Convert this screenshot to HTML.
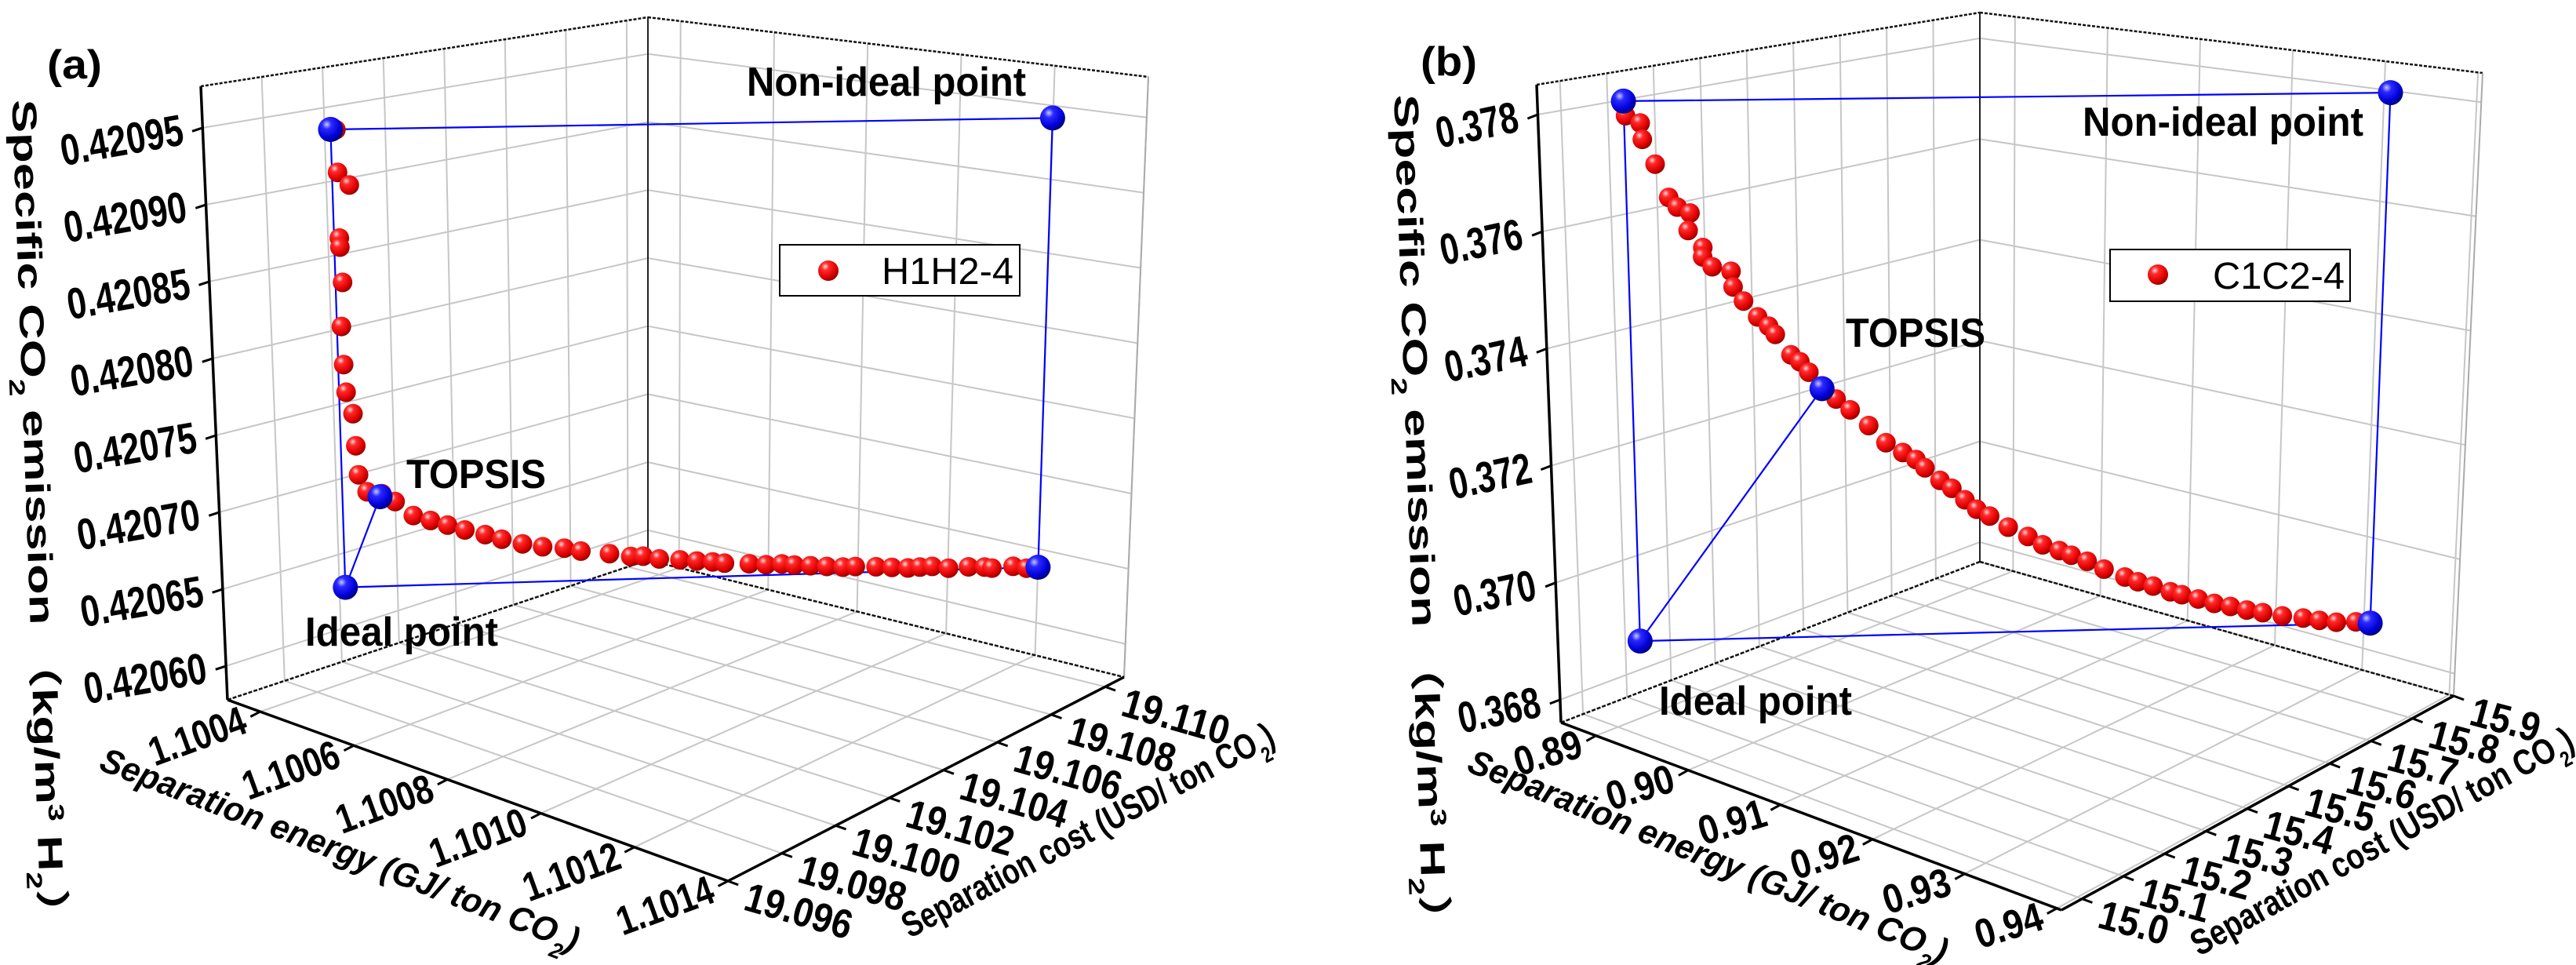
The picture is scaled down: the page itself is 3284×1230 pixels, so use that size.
<!DOCTYPE html>
<html><head><meta charset="utf-8"><style>
html,body{margin:0;padding:0;background:#fff;}
svg{display:block;font-family:"Liberation Sans","Noto Sans CJK SC",sans-serif;}
</style></head><body>
<svg id="chart" xmlns="http://www.w3.org/2000/svg" width="3284" height="1230" viewBox="0 0 3284 1230">
<defs>
<radialGradient id="redG" cx="0.35" cy="0.3" r="0.75"><stop offset="0" stop-color="#ffd8d8"/><stop offset="0.25" stop-color="#ff2a2a"/><stop offset="0.7" stop-color="#e00000"/><stop offset="1" stop-color="#8a0000"/></radialGradient>
<radialGradient id="blueG" cx="0.35" cy="0.3" r="0.75"><stop offset="0" stop-color="#c8c8ff"/><stop offset="0.25" stop-color="#2a2aff"/><stop offset="0.7" stop-color="#0000d8"/><stop offset="1" stop-color="#000070"/></radialGradient>
</defs>
<g id="panelA"></g>
<g id="panelB"></g>

<text x="60" y="100" font-size="52" font-weight="bold" textLength="70" lengthAdjust="spacingAndGlyphs">(a)</text>
<text x="1811" y="96" font-size="52" font-weight="bold" textLength="72" lengthAdjust="spacingAndGlyphs">(b)</text>

<text transform="translate(34,662) rotate(88)" text-anchor="middle" font-size="44" font-weight="bold" textLength="1070" lengthAdjust="spacingAndGlyphs">Specific CO<tspan baseline-shift="sub" font-size="28">2</tspan> emission （kg/m<tspan baseline-shift="super" font-size="28">3</tspan> H<tspan baseline-shift="sub" font-size="28">2</tspan>）</text>
<text transform="translate(1796,663) rotate(88)" text-anchor="middle" font-size="44" font-weight="bold" textLength="1085" lengthAdjust="spacingAndGlyphs">Specific CO<tspan baseline-shift="sub" font-size="28">2</tspan> emission （kg/m<tspan baseline-shift="super" font-size="28">3</tspan> H<tspan baseline-shift="sub" font-size="28">2</tspan>）</text>

<text transform="translate(428,1097) rotate(21)" text-anchor="middle" font-size="44" font-weight="bold" font-style="italic" textLength="650" lengthAdjust="spacingAndGlyphs">Separation energy (GJ/ ton CO<tspan baseline-shift="sub" font-size="28">2</tspan>)</text>
<text transform="translate(1394,1072) rotate(-28)" text-anchor="middle" font-size="46" font-weight="bold" textLength="530" lengthAdjust="spacingAndGlyphs">Separation cost (USD/ ton CO<tspan baseline-shift="sub" font-size="28">2</tspan>)</text>
<text transform="translate(2172,1105) rotate(22)" text-anchor="middle" font-size="44" font-weight="bold" font-style="italic" textLength="655" lengthAdjust="spacingAndGlyphs">Separation energy (GJ/ ton CO<tspan baseline-shift="sub" font-size="28">2</tspan>)</text>
<text transform="translate(3044,1086) rotate(-29)" text-anchor="middle" font-size="46" font-weight="bold" textLength="550" lengthAdjust="spacingAndGlyphs">Separation cost (USD/ ton CO<tspan baseline-shift="sub" font-size="28">2</tspan>)</text>

<text x="952" y="122" font-size="52" font-weight="bold" textLength="356" lengthAdjust="spacingAndGlyphs">Non-ideal point</text>
<text x="518" y="622" font-size="52" font-weight="bold" textLength="178" lengthAdjust="spacingAndGlyphs">TOPSIS</text>
<text x="389" y="823" font-size="52" font-weight="bold" textLength="246" lengthAdjust="spacingAndGlyphs">Ideal point</text>
<text x="2655" y="173" font-size="52" font-weight="bold" textLength="358" lengthAdjust="spacingAndGlyphs">Non-ideal point</text>
<text x="2353" y="442" font-size="52" font-weight="bold" textLength="178" lengthAdjust="spacingAndGlyphs">TOPSIS</text>
<text x="2115" y="911" font-size="52" font-weight="bold" textLength="246" lengthAdjust="spacingAndGlyphs">Ideal point</text>

<g>
<rect x="994" y="312" width="306" height="65" fill="#fff" stroke="#000" stroke-width="2"/>
<circle cx="1056" cy="345" r="13" fill="url(#redG)"/>
<text x="1124" y="362" font-size="48" textLength="168" lengthAdjust="spacingAndGlyphs">H1H2-4</text>
</g>
<g>
<rect x="2690" y="318" width="306" height="66" fill="#fff" stroke="#000" stroke-width="2"/>
<circle cx="2751" cy="350" r="13" fill="url(#redG)"/>
<text x="2821" y="368" font-size="48" textLength="168" lengthAdjust="spacingAndGlyphs">C1C2-4</text>
</g>
</svg>
<script>
// ---------- Panel (a) data: H1H2-4 ----------
const aEnergy = [1.100456,1.100456,1.100469,1.100456,1.100456,1.100458,1.100455,1.100456,1.100458,1.100465,1.100467,1.100469,1.100478,1.100495,1.10051,1.10053,1.10055,1.100569,1.100589,1.100612,1.100631,1.100655,1.100678,1.100703,1.100722,1.100755,1.10078,1.100794,1.100813,1.100837,1.100857,1.100875,1.100889,1.100918,1.100938,1.100956,1.100971,1.10099,1.101009,1.101028,1.101043,1.101067,1.101086,1.101105,1.101119,1.101134,1.101153,1.101177,1.101196,1.101205,1.10123,1.101246];
const aCost = [19.09838,19.09839,19.09856,19.09838,19.09839,19.09841,19.09837,19.09839,19.09841,19.09851,19.09854,19.09857,19.0987,19.09893,19.09914,19.09943,19.0997,19.09998,19.10025,19.10058,19.10085,19.10118,19.10151,19.10186,19.10213,19.1026,19.10294,19.10315,19.10341,19.10375,19.10402,19.10429,19.10448,19.10489,19.10516,19.10543,19.10563,19.1059,19.10617,19.10644,19.10664,19.10699,19.10725,19.10752,19.10772,19.10792,19.1082,19.10853,19.1088,19.10892,19.10928,19.10951];
const aCO2 = [0.420950,0.420922,0.420914,0.420879,0.420873,0.420850,0.420821,0.420796,0.420778,0.420764,0.420743,0.420724,0.420713,0.420712,0.420707,0.420698,0.420695,0.420692,0.420689,0.420686,0.420683,0.420680,0.420678,0.420677,0.420675,0.420673,0.420671,0.420671,0.420669,0.420668,0.420667,0.420666,0.420665,0.420664,0.420663,0.420663,0.420662,0.420661,0.420660,0.420659,0.420659,0.420658,0.420657,0.420656,0.420656,0.420656,0.420654,0.420654,0.420653,0.420652,0.420652,0.420650];
const aIdeal = [1.10045, 19.0983, 0.42065];
const aNonIdeal = [1.10126, 19.1097, 0.42095];
const aExtremeTop = [1.10045, 19.0983, 0.42095];
const aExtremeBottom = [1.10126, 19.1097, 0.42065];
const aTopsis = [1.100493, 19.0989, 0.42071];
const aEnergyTicks = [1.1004,1.1006,1.1008,1.1010,1.1012,1.1014];
const aEnergyTickLabels = ['1.1004','1.1006','1.1008','1.1010','1.1012','1.1014'];
const aCostTicks = [19.096,19.098,19.100,19.102,19.104,19.106,19.108,19.110];
const aCostTickLabels = ['19.096','19.098','19.100','19.102','19.104','19.106','19.108','19.110'];
const aCO2Ticks = [0.42060,0.42065,0.42070,0.42075,0.42080,0.42085,0.42090,0.42095];
const aCO2TickLabels = ['0.42060','0.42065','0.42070','0.42075','0.42080','0.42085','0.42090','0.42095'];
const aRange = {e0:1.10033, e1:1.1014, c0:19.096, c1:19.1107, z0:0.420578, z1:0.420977};

// ---------- Panel (b) data: C1C2-4 ----------
const bEnergy = [0.8898,0.8906,0.8907,0.8914,0.8921,0.8926,0.8933,0.8932,0.8940,0.8940,0.8945,0.8956,0.8957,0.8963,0.8971,0.8977,0.8981,0.8990,0.8995,0.9000,0.9016,0.9024,0.9035,0.9045,0.9055,0.9063,0.9068,0.9077,0.9084,0.9092,0.9099,0.9107,0.9118,0.9130,0.9139,0.9149,0.9156,0.9166,0.9176,0.9189,0.9197,0.9206,0.9217,0.9224,0.9234,0.9244,0.9254,0.9264,0.9274,0.9286,0.9299,0.9309,0.9320,0.9332];
const bCost = [15.0635,15.0781,15.0796,15.0911,15.1041,15.1117,15.1247,15.1217,15.1362,15.1354,15.1454,15.1637,15.1653,15.1752,15.189,15.2005,15.2066,15.2219,15.2311,15.2402,15.267,15.2816,15.2999,15.3175,15.3343,15.3473,15.3573,15.3726,15.3848,15.3978,15.4101,15.4231,15.4426,15.4629,15.4782,15.4958,15.5088,15.5248,15.5432,15.5646,15.5784,15.5952,15.6128,15.625,15.6426,15.6595,15.677,15.6947,15.7115,15.7329,15.7551,15.7727,15.7903,15.8117];
const bCO2 = [0.37795,0.37783,0.37755,0.37713,0.37656,0.3764,0.3763,0.376,0.37571,0.37555,0.37538,0.37531,0.37504,0.3748,0.37453,0.37437,0.37423,0.37388,0.37376,0.37358,0.37312,0.37293,0.37266,0.37236,0.37219,0.37207,0.37192,0.3717,0.37156,0.37136,0.37119,0.37107,0.37087,0.3707,0.37055,0.37044,0.37035,0.37024,0.37009,0.36994,0.36985,0.36976,0.36965,0.36959,0.3695,0.36941,0.36934,0.36926,0.3692,0.36912,0.36906,0.369,0.36895,0.36893];
const bIdeal = [0.8897, 15.062, 0.36889];
const bNonIdeal = [0.9341, 15.827, 0.3782];
const bExtremeTop = [0.8897, 15.062, 0.3782];
const bExtremeBottom = [0.9341, 15.827, 0.36889];
const bTopsis = [0.9008, 15.2525, 0.3733];
const bEnergyTicks = [0.89,0.90,0.91,0.92,0.93,0.94];
const bEnergyTickLabels = ['0.89','0.90','0.91','0.92','0.93','0.94'];
const bCostTicks = [15.0,15.1,15.2,15.3,15.4,15.5,15.6,15.7,15.8,15.9];
const bCostTickLabels = ['15.0','15.1','15.2','15.3','15.4','15.5','15.6','15.7','15.8','15.9'];
const bCO2Ticks = [0.368,0.370,0.372,0.374,0.376,0.378];
const bCO2TickLabels = ['0.368','0.370','0.372','0.374','0.376','0.378'];
const bRange = {e0:0.8862, e1:0.9405, c0:14.95, c1:15.9, z0:0.36761, z1:0.37851};

const NS = 'http://www.w3.org/2000/svg';
function mk(parent, tag, attrs){
  const el = document.createElementNS(NS, tag);
  for (const k in attrs) el.setAttribute(k, attrs[k]);
  parent.appendChild(el);
  return el;
}
function bil(g, key, u, v){
  const L=g[key+'L'], F=g[key+'F'], R=g[key+'R'], B=g[key+'B'];
  return [L[0]*(1-u)*(1-v)+F[0]*u*(1-v)+R[0]*u*v+B[0]*(1-u)*v,
          L[1]*(1-u)*(1-v)+F[1]*u*(1-v)+R[1]*u*v+B[1]*(1-u)*v];
}
function makeProj(g, r){
  return function(E, C, Z){
    const u=(E-r.e0)/(r.e1-r.e0), v=(C-r.c0)/(r.c1-r.c0), w=(Z-r.z0)/(r.z1-r.z0);
    const f=bil(g,'',u,v), vt=bil(g,'V',u,v);
    return [f[0]+w*vt[0], f[1]+w*vt[1]];
  };
}

function drawPanel(root, g, r, en, co, z, pts, eT, eL, cT, cL, zT, zL, lab){
  const P = makeProj(g, r);
  const line = (a, b, stroke, sw, dash) => {
    const el = mk(root, 'line', {x1:a[0].toFixed(1), y1:a[1].toFixed(1), x2:b[0].toFixed(1), y2:b[1].toFixed(1), stroke:stroke, 'stroke-width':sw});
    if (dash) el.setAttribute('stroke-dasharray', dash);
    return el;
  };
  const grid = '#c6c6c6';
  for (let i=0;i<zT.length;i++){
    const l1 = line(P(r.e0,r.c0,zT[i]), P(r.e0,r.c1,zT[i]), grid, 2);
    
    
    const l2 = line(P(r.e0,r.c1,zT[i]), P(r.e1,r.c1,zT[i]), grid, 2);
    
    
  }
  for (let i=0;i<cT.length;i++){
    const l1 = line(P(r.e0,cT[i],r.z0), P(r.e0,cT[i],r.z1), grid, 2);
    
    
    const l2 = line(P(r.e0,cT[i],r.z0), P(r.e1,cT[i],r.z0), grid, 2);
    
    
  }
  for (let i=0;i<eT.length;i++){
    const l1 = line(P(eT[i],r.c1,r.z0), P(eT[i],r.c1,r.z1), grid, 2);
    
    
    const l2 = line(P(eT[i],r.c0,r.z0), P(eT[i],r.c1,r.z0), grid, 2);
    
    
  }
  const Lb=P(r.e0,r.c0,r.z0), Lt=P(r.e0,r.c0,r.z1), Bb=P(r.e0,r.c1,r.z0), Bt=P(r.e0,r.c1,r.z1);
  const Rb=P(r.e1,r.c1,r.z0), Rt=P(r.e1,r.c1,r.z1), Fb=P(r.e1,r.c0,r.z0);
  let f;
  f = line(Lt, Bt, '#111', 2.5, '4 2');  
  f = line(Bt, Rt, '#111', 2.5, '4 2');  
  f = line(Bb, Bt, '#222', 2);  
  f = line(Rb, Rt, '#aaa', 2);  
  f = line(Lb, Bb, '#111', 2.5, '5 2');  
  f = line(Bb, Rb, '#111', 2.5, '5 2');  
  f = line(Lb, Lt, '#000', 3.5);  
  f = line(Lb, Fb, '#000', 3.5);  
  f = line(Fb, Rb, '#000', 3.5);  

  const norm = (d, len) => { const m=Math.hypot(d[0],d[1]); return [d[0]/m*len, d[1]/m*len]; };
  const zOut = norm([Lb[0]-Bb[0], Lb[1]-Bb[1]], 14);
  for (let i=0;i<zT.length;i++){
    const p = P(r.e0,r.c0,zT[i]);
    const t = line(p, [p[0]+zOut[0], p[1]+zOut[1]], '#000', 3);
    
    
    const tx = p[0]-22, ty = p[1]+21;
    const tl = mk(root, 'text', {x:tx.toFixed(1), y:ty.toFixed(1), 'text-anchor':'end', 'font-size':lab.zs, 'font-weight':'bold', textLength:lab.zl, lengthAdjust:'spacingAndGlyphs', transform:'rotate('+lab.za+' '+tx.toFixed(1)+' '+ty.toFixed(1)+')'});
    tl.textContent = zL[i];
    
    
  }
  const eOut = norm([Fb[0]-Rb[0], Fb[1]-Rb[1]], 14);
  for (let i=0;i<eT.length;i++){
    const p = P(eT[i],r.c0,r.z0);
    const t = line(p, [p[0]+eOut[0], p[1]+eOut[1]], '#000', 3);
    
    
    const tx = p[0]-14, ty = p[1]+26;
    const tl = mk(root, 'text', {x:tx.toFixed(1), y:ty.toFixed(1), 'text-anchor':'end', 'font-size':lab.es, 'font-weight':'bold', textLength:lab.el, lengthAdjust:'spacingAndGlyphs', transform:'rotate('+lab.ea+' '+tx.toFixed(1)+' '+ty.toFixed(1)+')'});
    tl.textContent = eL[i];
    
    
  }
  const cOut = norm([Fb[0]-Lb[0], Fb[1]-Lb[1]], 14);
  for (let i=0;i<cT.length;i++){
    const p = P(r.e1,cT[i],r.z0);
    const t = line(p, [p[0]+cOut[0], p[1]+cOut[1]], '#000', 3);
    
    
    const tx = p[0]+18, ty = p[1]+36;
    const tl = mk(root, 'text', {x:tx.toFixed(1), y:ty.toFixed(1), 'text-anchor':'start', 'font-size':lab.cs, 'font-weight':'bold', textLength:lab.cl, lengthAdjust:'spacingAndGlyphs', transform:'rotate('+lab.ca+' '+tx.toFixed(1)+' '+ty.toFixed(1)+')'});
    tl.textContent = cL[i];
    
    
  }
  const I=P(...pts.ideal), N=P(...pts.non), T=P(...pts.top), Bo=P(...pts.bot), S=P(...pts.topsis);
  const segs = [[I,T],[T,N],[N,Bo],[Bo,I],[I,S]];
  for (const s of segs){
    const bl = line(s[0], s[1], '#0000ff', 2.2);
    
    
  }
  for (let i=0;i<en.length;i++){
    const p = P(en[i], co[i], z[i]);
    const c = mk(root, 'circle', {cx:p[0].toFixed(1), cy:p[1].toFixed(1), r:12.5, fill:'url(#redG)'});
    
    
  }
  const blues = [[I,'ideal-point'],[N,'non-ideal-point'],[T,'extreme-point-top'],[Bo,'extreme-point-bottom'],[S,'topsis-point']];
  for (const b of blues){
    const c = mk(root, 'circle', {cx:b[0][0].toFixed(1), cy:b[0][1].toFixed(1), r:16, fill:'url(#blueG)'});
    
    
  }
}

const geomA = {L:[290,892], F:[928,1123], R:[1433,863], B:[826,714], VL:[-34,-782], VB:[0,-692], VR:[31,-765], VF:[-3,-855]};
const geomB = {L:[1990,921], F:[2628,1160], R:[3128,887], B:[2524,716], VL:[-31,-813], VB:[0,-700], VR:[37,-794], VF:[6,-907]};

drawPanel(document.getElementById('panelA'), geomA, aRange, aEnergy, aCost, aCO2,
  {ideal:aIdeal, non:aNonIdeal, top:aExtremeTop, bot:aExtremeBottom, topsis:aTopsis},
  aEnergyTicks, aEnergyTickLabels, aCostTicks, aCostTickLabels, aCO2Ticks, aCO2TickLabels,
  {zs:56, za:-10, zl:158, es:52, ea:-20, el:128, cs:52, ca:16, cl:140});
drawPanel(document.getElementById('panelB'), geomB, bRange, bEnergy, bCost, bCO2,
  {ideal:bIdeal, non:bNonIdeal, top:bExtremeTop, bot:bExtremeBottom, topsis:bTopsis},
  bEnergyTicks, bEnergyTickLabels, bCostTicks, bCostTickLabels, bCO2Ticks, bCO2TickLabels,
  {zs:56, za:-12, zl:106, es:52, ea:-17, el:88, cs:52, ca:15, cl:90});
</script>
</body></html>
